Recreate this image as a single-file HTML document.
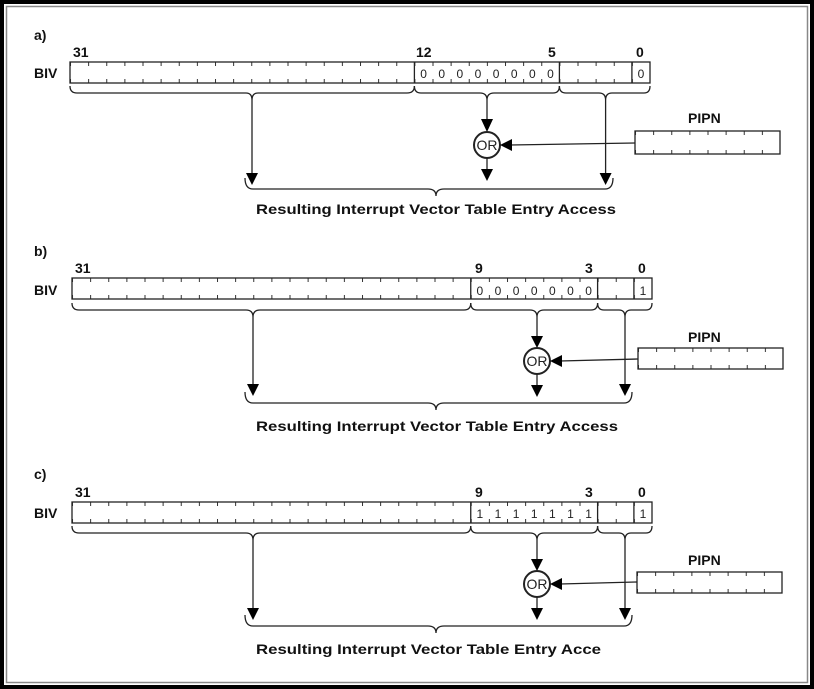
<!DOCTYPE html>
<html><head><meta charset="utf-8"><style>
html,body{margin:0;padding:0;background:#fff}
svg{display:block}
text{font-family:"Liberation Sans",Arial,sans-serif}
</style></head><body>
<svg width="814" height="689" viewBox="0 0 814 689" xmlns="http://www.w3.org/2000/svg">
<defs>
<pattern id="tk" patternUnits="userSpaceOnUse" x="0" y="0" width="18.125" height="21">
<line x1="0.5" y1="0" x2="0.5" y2="4" stroke="#333" stroke-width="1"/>
<line x1="0.5" y1="17" x2="0.5" y2="21" stroke="#333" stroke-width="1"/>
</pattern>
<pattern id="tk2" patternUnits="userSpaceOnUse" x="0" y="0" width="18.125" height="23">
<line x1="0.5" y1="0" x2="0.5" y2="4" stroke="#333" stroke-width="1"/>
<line x1="0.5" y1="19" x2="0.5" y2="23" stroke="#333" stroke-width="1"/>
</pattern>
</defs>
<!-- frame -->
<rect x="2" y="2" width="810" height="685" fill="none" stroke="#000" stroke-width="4"/>
<rect x="6.5" y="6.5" width="801" height="676" fill="none" stroke="#888" stroke-width="1.5"/>

<g fill="none" stroke="#222" stroke-width="1.3">
<!-- ===== Panel a ===== -->
<g transform="translate(70,62)">
<rect x="0" y="0" width="580" height="21" fill="url(#tk)" stroke="none"/>
<rect x="0" y="0" width="580" height="21"/>
<line x1="344.4" y1="0" x2="344.4" y2="21"/>
<line x1="489.4" y1="0" x2="489.4" y2="21"/>
<line x1="561.9" y1="0" x2="561.9" y2="21"/>
<path d="M0,24 Q0,31 7,31 L176,31 Q182,31 182,38 Q182,31 188,31 L337,31 Q344.4,31 344.4,24"/>
<path d="M344.4,24 Q344.4,31 351,31 L410,31 Q417,31 417,38 Q417,31 424,31 L483,31 Q489.4,31 489.4,24"/>
<path d="M489.4,24 Q489.4,31 496,31 L529,31 Q535.6,31 535.6,38 Q535.6,31 542,31 L574,31 Q580,31 580,24"/>
<line x1="182" y1="38" x2="182" y2="115"/>
<path d="M176,111 L182,123 L188,111 z" fill="#000" stroke="none"/>
<line x1="417" y1="38" x2="417" y2="60"/>
<path d="M411,57 L417,70 L423,57 z" fill="#000" stroke="none"/>
<line x1="535.6" y1="38" x2="535.6" y2="115"/>
<path d="M529.6,111 L535.6,123 L541.6,111 z" fill="#000" stroke="none"/>
<circle cx="417" cy="83" r="13" stroke-width="2"/>
<line x1="417" y1="96" x2="417" y2="110"/>
<path d="M411,107 L417,119 L423,107 z" fill="#000" stroke="none"/>
<line x1="565" y1="81" x2="440" y2="83"/>
<path d="M442,77 L430,83 L442,89 z" fill="#000" stroke="none"/>
<g transform="translate(565,69)">
<rect x="0" y="0" width="145" height="23" fill="url(#tk2)" stroke="none"/>
<rect x="0" y="0" width="145" height="23"/>
</g>
<path d="M175,116 Q175,127 183,127 L358,127 Q366,127 366,134 Q366,127 374,127 L535,127 Q543,127 543,116"/>
</g>
<!-- ===== Panel b ===== -->
<g transform="translate(72,278)">
<rect x="0" y="0" width="580" height="21" fill="url(#tk)" stroke="none"/>
<rect x="0" y="0" width="580" height="21"/>
<line x1="398.75" y1="0" x2="398.75" y2="21"/>
<line x1="525.6" y1="0" x2="525.6" y2="21"/>
<line x1="561.9" y1="0" x2="561.9" y2="21"/>
<path d="M0,25 Q0,32 7,32 L174,32 Q181,32 181,39 Q181,32 188,32 L392,32 Q398.75,32 398.75,25"/>
<path d="M398.75,25 Q398.75,32 405,32 L458,32 Q465,32 465,39 Q465,32 472,32 L519,32 Q525.6,32 525.6,25"/>
<path d="M525.6,25 Q525.6,32 532,32 L547,32 Q553,32 553,39 Q553,32 559,32 L574,32 Q580,32 580,25"/>
<line x1="181" y1="39" x2="181" y2="110"/>
<path d="M175,106 L181,118 L187,106 z" fill="#000" stroke="none"/>
<line x1="465" y1="39" x2="465" y2="62"/>
<path d="M459,58 L465,70 L471,58 z" fill="#000" stroke="none"/>
<line x1="553" y1="39" x2="553" y2="110"/>
<path d="M547,106 L553,118 L559,106 z" fill="#000" stroke="none"/>
<circle cx="465" cy="83" r="13" stroke-width="2"/>
<line x1="465" y1="96" x2="465" y2="110"/>
<path d="M459,107 L465,119 L471,107 z" fill="#000" stroke="none"/>
<line x1="566" y1="81" x2="488" y2="83"/>
<path d="M490,77 L478,83 L490,89 z" fill="#000" stroke="none"/>
<g transform="translate(566,70)">
<rect x="0" y="0" width="145" height="21" fill="url(#tk)" stroke="none"/>
<rect x="0" y="0" width="145" height="21"/>
</g>
<path d="M173,114 Q173,125 181,125 L356,125 Q364,125 364,132 Q364,125 372,125 L552,125 Q560,125 560,114"/>
</g>
<!-- ===== Panel c ===== -->
<g transform="translate(72,502)">
<rect x="0" y="0" width="580" height="21" fill="url(#tk)" stroke="none"/>
<rect x="0" y="0" width="580" height="21"/>
<line x1="398.75" y1="0" x2="398.75" y2="21"/>
<line x1="525.6" y1="0" x2="525.6" y2="21"/>
<line x1="561.9" y1="0" x2="561.9" y2="21"/>
<path d="M0,24 Q0,31 7,31 L174,31 Q181,31 181,38 Q181,31 188,31 L392,31 Q398.75,31 398.75,24"/>
<path d="M398.75,24 Q398.75,31 405,31 L458,31 Q465,31 465,38 Q465,31 472,31 L519,31 Q525.6,31 525.6,24"/>
<path d="M525.6,24 Q525.6,31 532,31 L547,31 Q553,31 553,38 Q553,31 559,31 L574,31 Q580,31 580,24"/>
<line x1="181" y1="38" x2="181" y2="110"/>
<path d="M175,106 L181,118 L187,106 z" fill="#000" stroke="none"/>
<line x1="465" y1="38" x2="465" y2="61"/>
<path d="M459,57 L465,69 L471,57 z" fill="#000" stroke="none"/>
<line x1="553" y1="38" x2="553" y2="110"/>
<path d="M547,106 L553,118 L559,106 z" fill="#000" stroke="none"/>
<circle cx="465" cy="82" r="13" stroke-width="2"/>
<line x1="465" y1="95" x2="465" y2="109"/>
<path d="M459,106 L465,118 L471,106 z" fill="#000" stroke="none"/>
<line x1="565" y1="80" x2="488" y2="82"/>
<path d="M490,76 L478,82 L490,88 z" fill="#000" stroke="none"/>
<g transform="translate(565,70)">
<rect x="0" y="0" width="145" height="21" fill="url(#tk)" stroke="none"/>
<rect x="0" y="0" width="145" height="21"/>
</g>
<path d="M173,113 Q173,124 181,124 L356,124 Q364,124 364,131 Q364,124 372,124 L552,124 Q560,124 560,113"/>
</g>
</g>

<g font-weight="bold" font-size="14" fill="#111">
<text x="34" y="40">a)</text>
<text x="73" y="57">31</text>
<text x="416" y="57">12</text>
<text x="548" y="57">5</text>
<text x="636" y="57">0</text>
<text x="34" y="78">BIV</text>
<text x="688" y="123">PIPN</text>
<text x="256" y="214" textLength="360" lengthAdjust="spacingAndGlyphs">Resulting Interrupt Vector Table Entry Access</text>

<text x="34" y="256">b)</text>
<text x="75" y="273">31</text>
<text x="475" y="273">9</text>
<text x="585" y="273">3</text>
<text x="638" y="273">0</text>
<text x="34" y="295">BIV</text>
<text x="688" y="342">PIPN</text>
<text x="256" y="431" textLength="362" lengthAdjust="spacingAndGlyphs">Resulting Interrupt Vector Table Entry Access</text>

<text x="34" y="479">c)</text>
<text x="75" y="497">31</text>
<text x="475" y="497">9</text>
<text x="585" y="497">3</text>
<text x="638" y="497">0</text>
<text x="34" y="518">BIV</text>
<text x="688" y="565">PIPN</text>
<text x="256" y="654" textLength="345" lengthAdjust="spacingAndGlyphs">Resulting Interrupt Vector Table Entry Acce</text>
</g>

<g font-size="12" fill="#222" text-anchor="middle">
<text x="423.6" y="78">0</text><text x="441.7" y="78">0</text><text x="459.8" y="78">0</text><text x="478" y="78">0</text>
<text x="496.1" y="78">0</text><text x="514.2" y="78">0</text><text x="532.3" y="78">0</text><text x="550.5" y="78">0</text>
<text x="641" y="78">0</text>
<text x="479.8" y="295">0</text><text x="498" y="295">0</text><text x="516.1" y="295">0</text><text x="534.2" y="295">0</text>
<text x="552.3" y="295">0</text><text x="570.5" y="295">0</text><text x="588.6" y="295">0</text>
<text x="643" y="295">1</text>
<text x="479.8" y="518">1</text><text x="498" y="518">1</text><text x="516.1" y="518">1</text><text x="534.2" y="518">1</text>
<text x="552.3" y="518">1</text><text x="570.5" y="518">1</text><text x="588.6" y="518">1</text>
<text x="643" y="518">1</text>
</g>
<g font-size="14" fill="#222" text-anchor="middle">
<text x="487" y="150">OR</text>
<text x="537" y="366">OR</text>
<text x="537" y="589">OR</text>
</g>
</svg>
</body></html>
